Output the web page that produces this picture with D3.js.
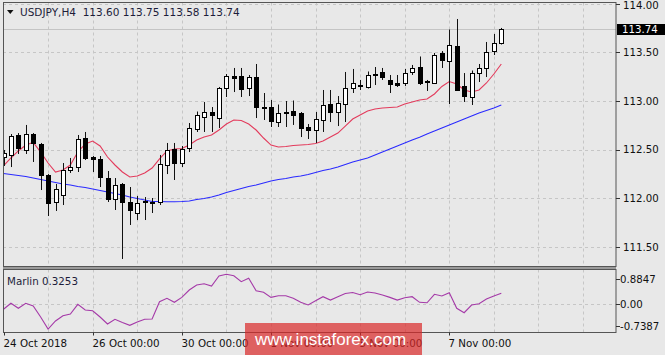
<!DOCTYPE html>
<html>
<head>
<meta charset="utf-8">
<title>USDJPY,H4</title>
<script src="https://cdn.jsdelivr.net/npm/d3@7"></script>
<style>
  body { margin: 0; background: #e8e8e8; }
  text { font-family: "DejaVu Sans", sans-serif; }
</style>
</head>
<body>
<script>
var width = 665, height = 355

// H4 bars, bar 0 = 24 Oct 2018 00:00
var opens  = [112.425,112.446,112.651,112.497,112.661,112.559,112.240,111.963,112.035,112.292,112.322,112.620,112.425,112.405,112.209,111.994,112.148,111.963,111.850,111.973,111.968,111.963,112.343,112.507,112.363,112.517,112.713,112.836,112.887,112.825,113.133,113.252,113.257,113.133,113.246,112.938,112.938,112.784,112.892,112.897,112.877,112.738,112.702,112.805,112.969,112.887,112.969,113.133,113.164,113.144,113.282,113.298,113.216,113.180,113.185,113.293,113.349,113.205,113.185,113.488,113.411,113.565,113.159,113.041,113.287,113.339,113.513,113.60]
var highs  = [112.497,112.661,112.671,112.754,112.671,112.569,112.250,112.148,112.363,112.415,112.651,112.682,112.435,112.435,112.281,112.209,112.158,112.117,112.025,112.014,112.004,112.446,112.569,112.569,112.538,112.774,112.892,112.990,112.938,113.144,113.277,113.339,113.339,113.267,113.380,113.082,113.010,112.964,113.000,113.005,112.887,112.764,112.887,113.113,113.113,113.051,113.298,113.329,113.216,113.303,113.349,113.339,113.267,113.267,113.329,113.370,113.457,113.216,113.493,113.513,113.734,113.842,113.287,113.313,113.380,113.606,113.688,113.75]
var lows   = [112.333,112.322,112.456,112.456,112.374,112.086,111.819,111.871,111.932,112.261,112.271,112.394,112.271,112.117,111.963,111.881,111.378,111.727,111.778,111.778,111.850,111.932,112.250,112.189,112.322,112.476,112.682,112.682,112.682,112.723,113.041,113.092,113.041,113.051,112.825,112.805,112.733,112.733,112.733,112.754,112.630,112.610,112.569,112.682,112.784,112.743,112.784,113.082,113.113,113.128,113.164,113.216,113.082,113.144,113.154,113.267,113.164,113.103,113.175,113.339,112.969,113.108,112.990,112.959,113.195,113.246,113.472,113.58]
var closes = [112.466,112.641,112.517,112.661,112.569,112.240,111.953,112.096,112.292,112.322,112.610,112.415,112.405,112.220,111.994,112.138,111.963,111.881,111.953,111.963,111.953,112.353,112.497,112.363,112.507,112.723,112.856,112.887,112.856,113.133,113.257,113.241,113.123,113.246,112.938,112.928,112.795,112.877,112.882,112.861,112.723,112.707,112.815,112.959,112.887,112.979,113.133,113.185,113.159,113.267,113.272,113.246,113.175,113.169,113.287,113.334,113.185,113.195,113.472,113.426,113.575,113.113,113.056,113.287,113.339,113.503,113.595,113.74]

// moving averages
var maRed  = [112.333,112.415,112.487,112.548,112.574,112.476,112.363,112.271,112.292,112.343,112.476,112.559,112.589,112.538,112.425,112.343,112.271,112.220,112.230,112.261,112.312,112.405,112.487,112.507,112.512,112.548,112.600,112.630,112.651,112.702,112.764,112.805,112.800,112.764,112.702,112.620,112.548,112.528,112.533,112.543,112.548,112.553,112.564,112.589,112.630,112.671,112.743,112.815,112.856,112.897,112.918,112.928,112.933,112.938,112.969,112.990,113.010,113.021,113.072,113.149,113.200,113.175,113.113,113.092,113.113,113.185,113.277,113.380]
var maBlue = [112.256,112.245,112.235,112.225,112.209,112.194,112.179,112.163,112.148,112.138,112.122,112.112,112.097,112.081,112.066,112.050,112.035,112.014,111.999,111.984,111.968,111.968,111.966,111.966,111.968,111.973,111.989,111.999,112.014,112.035,112.061,112.081,112.102,112.122,112.138,112.158,112.179,112.194,112.204,112.220,112.230,112.245,112.266,112.286,112.302,112.322,112.348,112.374,112.394,112.415,112.446,112.476,112.507,112.538,112.569,112.600,112.627,112.661,112.692,112.723,112.754,112.784,112.815,112.846,112.877,112.902,112.928,112.959]

var marlin = [-0.154,0.024,-0.125,0.024,-0.056,-0.383,-0.7387,-0.50,-0.344,-0.294,-0.006,-0.175,-0.196,-0.383,-0.59,-0.45,-0.546,-0.629,-0.53,-0.45,-0.442,0.071,0.172,0.053,0.20,0.418,0.567,0.605,0.537,0.834,0.8847,0.843,0.665,0.766,0.398,0.35,0.20,0.25,0.25,0.172,0.053,-0.027,0.10,0.22,0.12,0.22,0.315,0.344,0.279,0.359,0.33,0.27,0.20,0.12,0.19,0.22,0.053,0.04,0.29,0.24,0.338,-0.125,-0.255,-0.027,0.012,0.151,0.24,0.3253]

var priceTicks = [111.5, 112, 112.5, 113, 113.5, 114]
var marlinTicks = [0.8847, 0, -0.7387]
var marlinTickText = ["0.8847", "0.00", "-0.7387"]
var dayBars = [6, 12, 18, 24, 30, 36, 42, 48, 54, 60, 66, 72, 78]
var timeBars = [0, 12, 24, 36, 48, 60]
var timeLabels = ["24 Oct 2018", "26 Oct 00:00", "30 Oct 00:00", "1 Nov 00:00", "5 Nov 00:00", "7 Nov 00:00"]

var left = 3, right = 616
var mainTop = 2.5, mainBottom = 266.5
var indTop = 269.5, indBottom = 332.5

var svg = d3.select("body").append("svg").attr("width", width).attr("height", height)
svg.append("rect").attr("width", width).attr("height", height).attr("fill", "#e8e8e8")

var x = d3.scaleLinear().domain([0, 78]).range([3.5, 3.5 + 78 * 7.43])
var y = d3.scaleLinear().domain([111.5, 114]).range([247.1, 3.6])
var ym = d3.scaleLinear().domain([-0.7387, 0.8847]).range([329, 274.3])

function px(v) { return Math.round(v) + 0.5 }

svg.append("clipPath").attr("id", "mainclip").append("rect")
    .attr("x", left).attr("y", mainTop).attr("width", right - left).attr("height", mainBottom - mainTop)
svg.append("clipPath").attr("id", "indclip").append("rect")
    .attr("x", left).attr("y", indTop).attr("width", right - left).attr("height", indBottom - indTop)

// grid
var grid = svg.append("g").attr("stroke", "#c6c6c6").attr("stroke-dasharray", "3,3")
grid.selectAll(".hg").data(priceTicks).enter().append("line")
    .attr("x1", left).attr("x2", right)
    .attr("y1", d => px(y(d))).attr("y2", d => px(y(d)))
grid.selectAll(".vg").data(dayBars).enter().append("line")
    .attr("x1", d => px(x(d))).attr("x2", d => px(x(d)))
    .attr("y1", mainTop).attr("y2", mainBottom)
grid.selectAll(".vg2").data(dayBars).enter().append("line")
    .attr("x1", d => px(x(d))).attr("x2", d => px(x(d)))
    .attr("y1", indTop).attr("y2", indBottom)
grid.append("line").attr("x1", left).attr("x2", right)
    .attr("y1", px(ym(0))).attr("y2", px(ym(0)))

var main = svg.append("g").attr("clip-path", "url(#mainclip)")

// bid line
var last = closes[closes.length - 1]
main.append("line").attr("x1", left).attr("x2", right)
    .attr("y1", px(y(last))).attr("y2", px(y(last)))
    .attr("stroke", "#c4c4c4")

var lineMain = d3.line().x((d, i) => x(i)).y(d => y(d))
main.append("path").attr("d", lineMain(maBlue)).attr("fill", "none").attr("stroke", "#2a2aff").attr("stroke-width", 1.1)
main.append("path").attr("d", lineMain(maRed)).attr("fill", "none").attr("stroke", "#e33b5c").attr("stroke-width", 1.1)

var bars = main.selectAll(".bar").data(closes).enter().append("g")
bars.append("line")
    .attr("x1", (d, i) => px(x(i))).attr("x2", (d, i) => px(x(i)))
    .attr("y1", (d, i) => y(highs[i])).attr("y2", (d, i) => y(lows[i]))
    .attr("stroke", "#111")
bars.append("rect")
    .attr("x", (d, i) => Math.round(x(i)) - 1.5)
    .attr("width", 4)
    .attr("y", (d, i) => Math.round(y(Math.max(opens[i], d))) + 0.5)
    .attr("height", (d, i) => Math.max(1, Math.round(y(Math.min(opens[i], d))) - Math.round(y(Math.max(opens[i], d)))))
    .attr("fill", (d, i) => d >= opens[i] ? "#ffffff" : "#000000")
    .attr("stroke", "#000")

// marlin
var ind = svg.append("g").attr("clip-path", "url(#indclip)")
var lineInd = d3.line().x((d, i) => x(i)).y(d => ym(d))
ind.append("path").attr("d", lineInd(marlin)).attr("fill", "none").attr("stroke", "#a53aa8").attr("stroke-width", 1.1)

// frames
svg.append("rect").attr("x", left + 0.5).attr("y", mainTop).attr("width", right - left - 0.5).attr("height", mainBottom - mainTop)
    .attr("fill", "none").attr("stroke", "#555")
svg.append("rect").attr("x", left).attr("y", mainBottom + 0.5).attr("width", right - left).attr("height", 2.5).attr("fill", "#9a9a9a")
svg.append("rect").attr("x", left + 0.5).attr("y", indTop).attr("width", right - left - 0.5).attr("height", indBottom - indTop)
    .attr("fill", "none").attr("stroke", "#555")

// price axis
var pa = svg.append("g")
pa.selectAll("line").data(priceTicks).enter().append("line")
    .attr("x1", right).attr("x2", right + 4)
    .attr("y1", d => px(y(d))).attr("y2", d => px(y(d))).attr("stroke", "#333")
pa.selectAll("text").data(priceTicks).enter().append("text")
    .attr("x", 623).attr("y", d => Math.max(5, y(d))).attr("dy", "0.36em")
    .attr("font-size", "10.2px").attr("fill", "#111")
    .text(d => d3.format(".2f")(d))

pa.append("rect").attr("x", 617).attr("y", Math.round(y(last)) - 5).attr("width", 48).attr("height", 11).attr("fill", "#000")
pa.append("text").attr("x", 622).attr("y", y(last)).attr("dy", "0.36em")
    .attr("font-size", "10.2px").attr("fill", "#fff").text(d3.format(".2f")(last))

// marlin axis
var ma = svg.append("g")
ma.selectAll("line").data(marlinTicks).enter().append("line")
    .attr("x1", right).attr("x2", right + 4)
    .attr("y1", d => px(Math.max(279, Math.min(326, ym(d))))).attr("y2", d => px(Math.max(279, Math.min(326, ym(d)))))
    .attr("stroke", "#333")
ma.selectAll("text").data(marlinTicks).enter().append("text")
    .attr("x", 620).attr("y", d => Math.max(279, Math.min(326, ym(d)))).attr("dy", "0.36em")
    .attr("font-size", "10.2px").attr("fill", "#111")
    .text((d, i) => marlinTickText[i])

// time axis
var ta = svg.append("g")
ta.selectAll("line").data(timeBars).enter().append("line")
    .attr("x1", d => px(x(d))).attr("x2", d => px(x(d)))
    .attr("y1", indBottom).attr("y2", indBottom + 3).attr("stroke", "#333")
ta.selectAll("text").data(timeBars).enter().append("text")
    .attr("x", d => Math.round(x(d)) - 0.5).attr("y", 347)
    .attr("font-size", "10.3px").attr("fill", "#111")
    .text((d, i) => timeLabels[i])

// labels
svg.append("path").attr("d", "M7,10 L13.5,10 L10.25,14 Z").attr("fill", "#111")
svg.append("text").attr("x", 20).attr("y", 16).attr("font-size", "10.5px").attr("fill", "#1d1d3a")
    .attr("xml:space", "preserve")
    .text("USDJPY,H4  " + d3.format(".2f")(opens[67]) + " " + d3.format(".2f")(highs[67]) + " " + d3.format(".2f")(lows[67]) + " " + d3.format(".2f")(last))
svg.append("text").attr("x", 7).attr("y", 285).attr("font-size", "10.3px").attr("fill", "#1d1d3a")
    .text("Marlin " + d3.format(".4f")(marlin[marlin.length - 1]))

// watermark (covers part of the time labels, as in the original)
svg.append("rect").attr("x", 245).attr("y", 323).attr("width", 177).attr("height", 32)
    .attr("fill", "rgb(218,40,40)").attr("fill-opacity", 0.7)
svg.append("text").attr("x", 255).attr("y", 345).attr("font-size", "17px")
    .style("font-family", "'Liberation Sans', Arial, sans-serif").attr("fill", "#fff")
    .text("www.instaforex.com")
</script>
</body>
</html>
